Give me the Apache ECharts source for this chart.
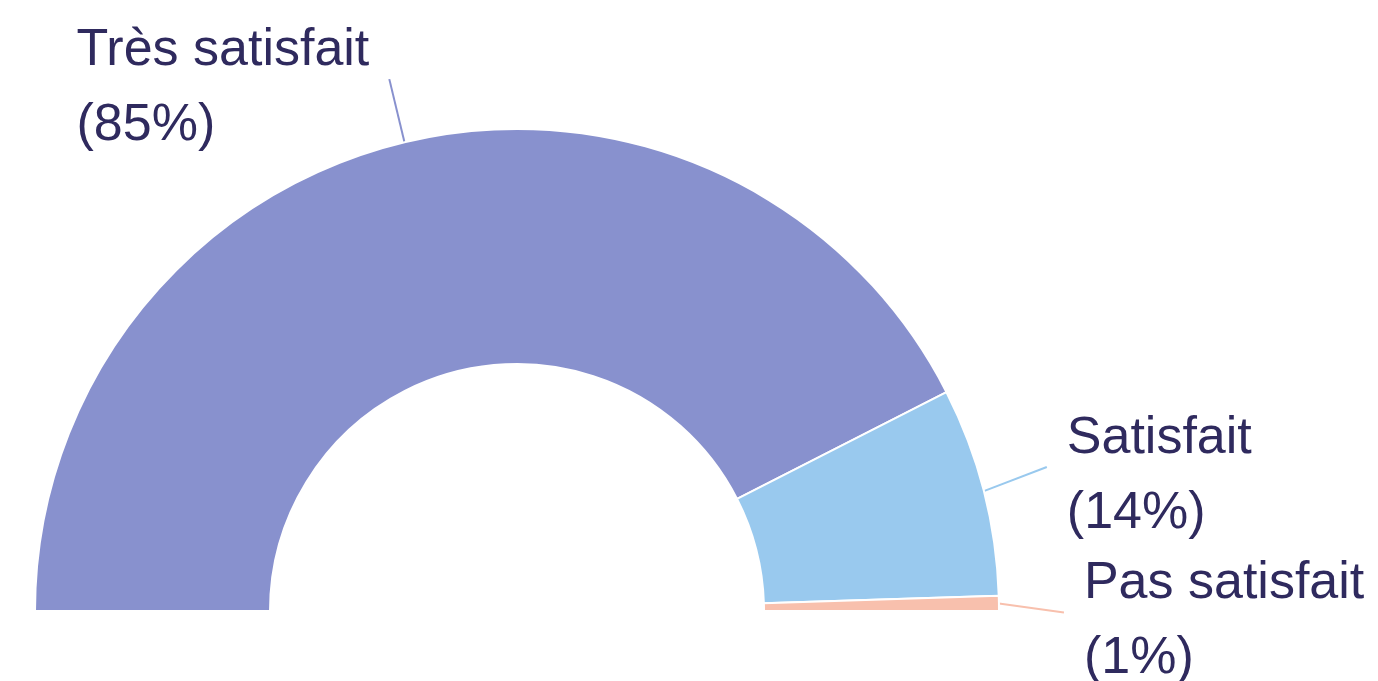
<!DOCTYPE html>
<html>
<head>
<meta charset="utf-8">
<script src="https://cdn.jsdelivr.net/npm/echarts@6/dist/echarts.min.js"></script>
<style>
html,body{margin:0;padding:0;background:#fff;}
#chart{width:1378px;height:681px;}
</style>
</head>
<body>
<div id="chart"></div>
<script>
const categories = ['Très satisfait', 'Satisfait', 'Pas satisfait'];
const values = [85, 14, 1];
const colors = ['#8891ce', '#99c9ee', '#f8c0ad'];

// layout only: vertical nudge of labels to avoid overlap (px)
const labelShiftY = [0, -8, 10];

const data = categories.map((c, i) => ({ name: c, value: values[i], itemStyle: { color: colors[i] } }));

const chart = echarts.init(document.getElementById('chart'), null, { renderer: 'canvas' });
chart.setOption({
  animation: false,
  backgroundColor: '#ffffff',
  series: [{
    type: 'pie',
    center: [517, 611],
    radius: [247, 482],
    startAngle: 180,
    endAngle: 0,
    clockwise: true,
    avoidLabelOverlap: false,
    itemStyle: { borderColor: '#ffffff', borderWidth: 2 },
    label: {
      show: true,
      position: 'outside',
      distanceToLabelLine: 20,
      padding: [18, 0, 0, 0],
      formatter: p => '{n|' + p.name + '}\n{n|(' + Math.round(p.percent) + '%)}',
      rich: {
        n: {
          align: 'left',
          fontSize: 52,
          lineHeight: 75,
          fontFamily: '"Liberation Sans", Arial, sans-serif',
          color: '#2f2a5e'
        }
      }
    },
    labelLine: {
      show: true,
      length: 65,
      length2: 0,
      lineStyle: { width: 2 }
    },
    labelLayout: function (params) {
      const s = labelShiftY[params.dataIndex] || 0;
      if (!s || !params.labelLinePoints) return {};
      const pts = params.labelLinePoints.map(p => p.slice());
      const last = pts.length - 1;
      const anchorY = pts[last][1];
      pts[last][1] += s;
      if (last >= 1) pts[last - 1][1] += s;
      return { y: anchorY + s, labelLinePoints: pts };
    },
    emphasis: { disabled: true },
    data: data
  }]
});
</script>
</body>
</html>
